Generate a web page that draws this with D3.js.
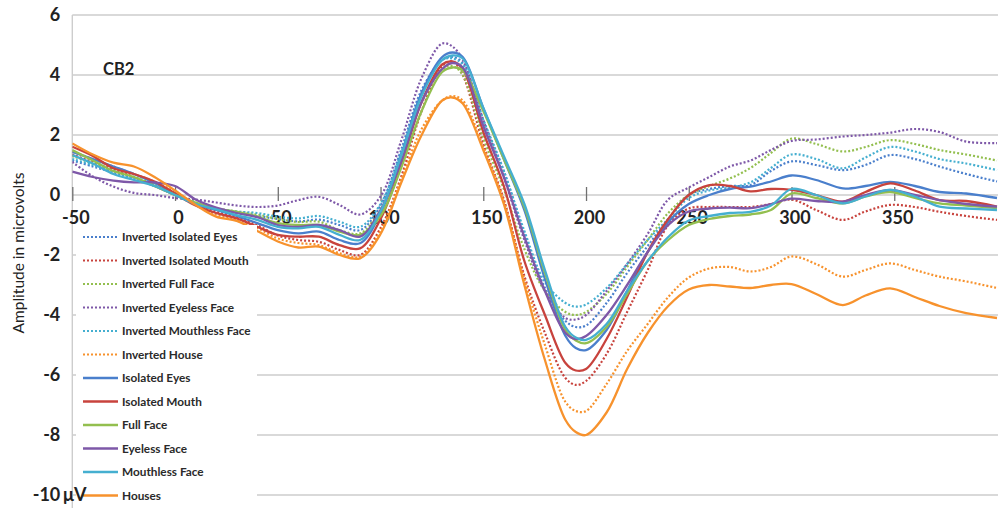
<!DOCTYPE html>
<html><head><meta charset="utf-8">
<script src="https://cdn.jsdelivr.net/npm/d3@7"></script>
<style>html,body{margin:0;padding:0;background:#fff;overflow:hidden;} svg{display:block;}</style>
</head><body>
<svg id="chart" width="998" height="508"></svg>
<script>
// ---- data ----
const times = [-50,-40,-30,-20,-10,0,10,20,30,40,50,60,70,80,90,100,110,120,130,135,140,150,160,170,180,190,195,200,210,220,230,240,250,260,270,280,290,300,312,325,336,348,360,372,385,400];
const seriesNames = ["Inverted Isolated Eyes","Inverted Isolated Mouth","Inverted Full Face","Inverted Eyeless  Face","Inverted Mouthless Face","Inverted House","Isolated Eyes","Isolated Mouth","Full Face","Eyeless Face","Mouthless Face","Houses"];
const invIsoEyes = [1.15,0.95,0.75,0.55,0.3,0.0,-0.3,-0.45,-0.6,-0.7,-0.8,-0.88,-0.82,-1.0,-1.17,-0.35,1.5,3.5,4.5,4.6,4.4,2.5,0.8,-1.3,-3.1,-4.2,-4.4,-4.35,-3.6,-2.6,-1.7,-0.8,0.0,0.2,0.3,0.33,0.8,1.12,1.0,0.83,1.0,1.33,1.2,0.95,0.7,0.45];
const invIsoMouth = [1.35,1.1,0.85,0.6,0.3,0.0,-0.3,-0.55,-0.75,-1.0,-1.35,-1.5,-1.56,-1.83,-2.0,-1.1,0.6,2.8,4.3,4.45,4.0,1.7,-0.15,-2.7,-4.6,-6.1,-6.33,-6.2,-5.3,-3.9,-2.5,-1.0,-0.45,-0.4,-0.4,-0.4,-0.3,-0.15,-0.5,-0.83,-0.55,-0.33,-0.4,-0.56,-0.7,-0.83];
const invFullFace = [1.3,1.05,0.8,0.6,0.35,0.05,-0.25,-0.45,-0.55,-0.65,-0.8,-0.9,-0.89,-1.17,-1.28,-0.5,1.2,3.1,4.2,4.3,4.0,1.9,0.2,-1.8,-3.2,-3.9,-4.0,-3.9,-3.3,-2.4,-1.5,-0.6,0.0,0.3,0.55,0.9,1.4,1.88,1.7,1.45,1.6,1.83,1.7,1.5,1.35,1.15];
const invEyeless = [1.1,0.62,0.28,0.07,0.0,-0.1,-0.15,-0.25,-0.35,-0.4,-0.35,-0.17,-0.06,-0.33,-0.65,-0.05,1.8,3.9,5.05,4.95,4.5,2.5,0.6,-1.5,-3.2,-4.1,-4.15,-4.0,-3.2,-2.3,-1.3,-0.15,0.25,0.6,0.95,1.15,1.5,1.8,1.85,1.95,2.0,2.08,2.2,2.1,1.78,1.73];
const invMouthless = [1.2,1.0,0.78,0.55,0.3,0.0,-0.3,-0.45,-0.55,-0.6,-0.72,-0.78,-0.7,-0.89,-1.06,-0.3,1.4,3.4,4.5,4.55,4.35,2.5,0.8,-1.2,-2.9,-3.6,-3.72,-3.65,-3.1,-2.3,-1.5,-0.8,-0.1,0.15,0.25,0.42,0.9,1.35,1.2,0.89,1.25,1.6,1.45,1.2,1.05,0.83];
const invHouse = [1.45,1.2,0.95,0.7,0.45,0.1,-0.3,-0.65,-0.85,-1.1,-1.45,-1.6,-1.67,-1.94,-2.06,-1.2,0.5,2.2,3.15,3.3,3.15,1.6,-0.2,-2.8,-5.0,-6.9,-7.2,-7.2,-6.3,-5.2,-4.3,-3.4,-2.75,-2.45,-2.4,-2.55,-2.4,-2.05,-2.3,-2.72,-2.5,-2.28,-2.5,-2.72,-2.88,-3.1];
const isoEyes = [1.44,1.2,0.95,0.7,0.4,0.05,-0.3,-0.5,-0.7,-0.94,-1.17,-1.28,-1.22,-1.5,-1.61,-0.6,1.3,3.4,4.6,4.75,4.6,2.9,1.2,-0.5,-2.8,-4.7,-5.1,-5.17,-4.5,-3.2,-1.9,-0.9,-0.3,0.0,0.2,0.28,0.45,0.65,0.5,0.22,0.3,0.44,0.3,0.1,0.05,-0.1];
const isoMouth = [1.61,1.3,0.89,0.7,0.45,0.05,-0.35,-0.6,-0.78,-1.06,-1.33,-1.39,-1.39,-1.67,-1.78,-0.8,1.0,3.1,4.35,4.45,4.2,2.1,0.3,-2.2,-4.0,-5.6,-5.85,-5.8,-4.8,-3.4,-1.9,-0.8,0.0,0.33,0.3,0.12,0.2,0.17,0.0,-0.22,0.1,0.39,0.15,-0.17,-0.2,-0.39];
const fullFace = [1.5,1.15,0.8,0.6,0.3,0.0,-0.25,-0.45,-0.56,-0.72,-0.94,-1.0,-1.0,-1.22,-1.33,-0.7,0.9,2.8,4.1,4.25,4.15,2.8,1.2,-0.4,-2.6,-4.5,-4.85,-4.94,-4.4,-3.3,-2.2,-1.5,-1.0,-0.8,-0.7,-0.65,-0.5,0.05,-0.1,-0.28,-0.05,0.1,-0.1,-0.28,-0.35,-0.44];
const eyeless = [0.78,0.6,0.48,0.42,0.42,0.3,-0.15,-0.42,-0.6,-0.74,-1.0,-1.06,-1.0,-1.17,-1.39,-0.5,1.1,3.1,4.2,4.4,4.25,2.3,0.6,-1.4,-3.2,-4.6,-4.8,-4.7,-4.0,-3.0,-1.9,-1.0,-0.55,-0.45,-0.42,-0.44,-0.3,-0.12,-0.2,-0.22,0.0,0.17,0.0,-0.17,-0.3,-0.39];
const mouthless = [1.33,1.05,0.7,0.5,0.3,0.0,-0.3,-0.48,-0.67,-0.83,-1.06,-1.11,-1.06,-1.33,-1.5,-0.55,1.3,3.3,4.5,4.65,4.55,2.9,1.3,-0.3,-2.5,-4.4,-4.75,-4.83,-4.3,-3.2,-2.2,-1.4,-0.85,-0.7,-0.6,-0.56,-0.35,0.2,0.0,-0.28,-0.05,0.17,-0.05,-0.39,-0.45,-0.5];
const houses = [1.72,1.35,1.08,0.95,0.6,0.15,-0.33,-0.72,-0.86,-1.2,-1.55,-1.75,-1.72,-2.0,-2.11,-1.3,0.4,2.0,3.15,3.25,3.05,1.5,-0.3,-3.0,-5.5,-7.5,-7.9,-8.0,-7.25,-5.8,-4.6,-3.7,-3.15,-3.0,-3.05,-3.1,-3.0,-2.97,-3.3,-3.67,-3.35,-3.11,-3.4,-3.7,-3.94,-4.1];
const xTicks = [-50,0,50,100,150,200,250,300,350];
const yTicks = [6,4,2,0,-2,-4,-6,-8,-10];

// ---- styles ----
const seriesValues = [invIsoEyes,invIsoMouth,invFullFace,invEyeless,invMouthless,invHouse,isoEyes,isoMouth,fullFace,eyeless,mouthless,houses];
const palette = ["#4a7fcc","#c8433d","#93bf4f","#7e58a8","#45afd0","#f7922d"];
const colors = palette.concat(palette);
const dashed = [true,true,true,true,true,true,false,false,false,false,false,false];
const FONT = "Lato, 'Open Sans', sans-serif";
const fmt = d => String(d);

const svg = d3.select("#chart");
const x = d3.scaleLinear().domain([-50,400]).range([72.3,997]);
const y = d3.scaleLinear().domain([-10,6]).range([495,15]);

svg.append("defs").append("clipPath").attr("id","plotclip")
  .append("rect").attr("x",x(-50)).attr("y",0).attr("width",998-x(-50)).attr("height",508);

// gridlines
svg.append("g").selectAll("line").data(yTicks).join("line")
  .attr("x1",x(-50)).attr("x2",998).attr("y1",d=>y(d)).attr("y2",d=>y(d))
  .attr("stroke","#cdcdcd").attr("stroke-width",1.6);
// left axis line
svg.append("line").attr("x1",x(-50)).attr("x2",x(-50)).attr("y1",y(6)).attr("y2",508)
  .attr("stroke","#cdcdcd").attr("stroke-width",1.4);

// x axis (at y = 0), ticks crossing the line
const xAxisG = svg.append("g").attr("transform",`translate(0,${y(0)-8})`)
  .call(d3.axisBottom(x).tickValues(xTicks).tickSize(14).tickPadding(10).tickFormat(fmt));
xAxisG.select(".domain").remove();
xAxisG.selectAll(".tick line").attr("stroke","#707070").attr("stroke-width",1.3);
xAxisG.selectAll(".tick text").attr("font-family",FONT).attr("font-size",18).attr("font-weight","bold")
  .attr("fill","#222").attr("dx",3);

// y axis labels
const yAxisG = svg.append("g").attr("transform",`translate(${x(-50)},0)`)
  .call(d3.axisLeft(y).tickValues(yTicks).tickSize(0).tickPadding(12).tickFormat(fmt));
yAxisG.select(".domain").remove();
yAxisG.selectAll(".tick text").attr("font-family",FONT).attr("font-size",18).attr("font-weight","bold").attr("fill","#222");

// y axis title
svg.append("text").attr("transform",`translate(24,${(y(6)+y(-10))/2 - 2}) rotate(-90)`)
  .attr("text-anchor","middle").attr("font-family",FONT).attr("font-size",15.5).attr("fill","#222")
  .text("Amplitude in microvolts");

// CB2 label
svg.append("text").attr("x",103).attr("y",75).attr("font-family",FONT).attr("font-size",16.5)
  .attr("font-weight","bold").attr("fill","#222").text("CB2");

// lines
const line = d3.line().x((d,i)=>x(times[i])).y(d=>y(d)).curve(d3.curveCatmullRom.alpha(0.5));
svg.append("g").attr("clip-path","url(#plotclip)").selectAll("path").data(seriesValues).join("path")
  .attr("d",d=>line(d)).attr("fill","none")
  .attr("stroke",(d,i)=>colors[i])
  .attr("stroke-width",(d,i)=>dashed[i]?2.2:2.3)
  .attr("stroke-dasharray",(d,i)=>dashed[i]?"2,2":null)
  .attr("stroke-linejoin","round");

// legend
const lg = svg.append("g");
lg.append("rect").attr("x",76).attr("y",225).attr("width",181).attr("height",283).attr("fill","#fff");
const entries = lg.selectAll("g.entry").data(seriesNames).join("g").attr("class","entry")
  .attr("transform",(d,i)=>`translate(0,${237 + i*23.5})`);
entries.append("line").attr("x1",83).attr("x2",118).attr("y1",0).attr("y2",0)
  .attr("stroke",(d,i)=>colors[i]).attr("stroke-width",(d,i)=>dashed[i]?2:2.4)
  .attr("stroke-dasharray",(d,i)=>dashed[i]?"2,2":null);
entries.append("text").attr("x",122).attr("y",4).attr("font-family",FONT).attr("font-size",11.8)
  .attr("font-weight","bold").attr("fill","#2a2a2a").text(d=>d);

// "μV" unit beside the -10 label
svg.append("text").attr("x",63).attr("y",y(-10)+6).attr("font-family",FONT).attr("font-size",18)
  .attr("font-weight","bold").attr("fill","#222").text("μV");
</script>
</body></html>
